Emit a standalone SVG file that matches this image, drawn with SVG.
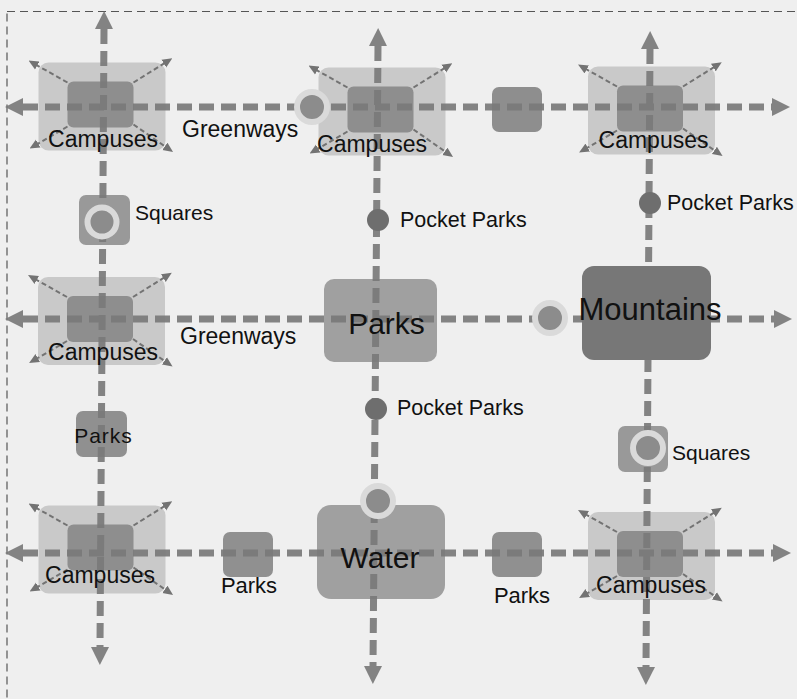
<svg xmlns="http://www.w3.org/2000/svg" width="797" height="699" viewBox="0 0 797 699">
<defs>
<style>
.t{font-family:"Liberation Sans",Arial,sans-serif;fill:#111}
.axis{fill:none;stroke:#7a7a7a;stroke-width:7;stroke-dasharray:15 7;marker-start:url(#big);marker-end:url(#big)}
.diag{fill:none;stroke:#737373;stroke-width:2;stroke-dasharray:5 3;marker-end:url(#small)}
.outer{fill:#c9c9c9}
.inner{fill:#8e8e8e}
.ring{fill:#8c8c8c;stroke:#dadada;stroke-width:6}
.dot{fill:#6e6e6e}
</style>
<marker id="big" markerUnits="userSpaceOnUse" markerWidth="18" markerHeight="18" refX="0" refY="8" orient="auto-start-reverse" viewBox="0 0 16 16"><path d="M0,0 L16,8 L0,16 z" fill="#7a7a7a"/></marker>
<marker id="small" markerUnits="userSpaceOnUse" markerWidth="10" markerHeight="10" refX="2" refY="4.5" orient="auto" viewBox="0 0 10 9"><path d="M0,0 L10,4.5 L0,9 z" fill="#737373"/></marker>
<g id="campusShape">
<rect class="outer" x="-62" y="-42" width="127" height="88" rx="10"/>
<rect class="inner" x="-33" y="-23" width="66" height="46" rx="6"/>
<path class="diag" d="M-33,-22 L-65,-40"/>
<path class="diag" d="M33,-22 L65,-42"/>
<path class="diag" d="M-33,22 L-64,40"/>
<path class="diag" d="M33,20 L66,43"/>
</g>
</defs>
<rect width="797" height="699" fill="#efefef"/>
<rect x="7" y="11.5" width="800" height="700" fill="none" stroke="#555" stroke-width="1.2" stroke-dasharray="8 5"/>

<g id="campus-tl"><use href="#campusShape" transform="translate(100.5,104.5)"/></g>
<g id="campus-tm"><use href="#campusShape" transform="translate(380.5,109.5)"/></g>
<g id="campus-tr"><use href="#campusShape" transform="translate(650,108.5)"/></g>
<g id="campus-ml"><use href="#campusShape" transform="translate(100,319)"/></g>
<g id="campus-bl"><use href="#campusShape" transform="translate(100.5,547.5)"/></g>
<g id="campus-br"><use href="#campusShape" transform="translate(650,554)"/></g>

<g id="parks-big"><rect x="324" y="279" width="113" height="83" rx="10" fill="#a0a0a0"/></g>
<g id="water"><rect x="317" y="505" width="128" height="94" rx="14" fill="#a0a0a0"/></g>
<g id="square-top"><rect x="492" y="87" width="50" height="45" rx="7" fill="#8e8e8e"/></g>
<g id="parks-left"><rect x="76" y="411" width="51" height="46" rx="7" fill="#909090"/></g>
<g id="parks-bl"><rect x="223" y="532" width="50" height="45" rx="7" fill="#909090"/></g>
<g id="parks-br"><rect x="492" y="532" width="50" height="45" rx="7" fill="#909090"/></g>
<g id="squares-tl-box"><rect x="79" y="195" width="51" height="50" rx="7" fill="#999"/></g>
<g id="squares-r-box"><rect x="618" y="426" width="50" height="46" rx="7" fill="#999"/></g>

<g id="connectors" opacity="0.92">
<path class="axis" d="M23,107 L772,107"/>
<path class="axis" d="M23,319 L774,319"/>
<path class="axis" d="M23,553 L773,553"/>
<path class="axis" d="M104,29 L100,647"/>
<path class="axis" d="M378,46 L373,666"/>
<path class="axis" d="M650,49 L646,667"/>
</g>

<g id="mountains"><rect x="582" y="266" width="129" height="94" rx="12" fill="#777"/></g>

<g id="ring-greenway-top"><circle class="ring" cx="312" cy="107" r="15"/></g>
<g id="ring-mid"><circle class="ring" cx="550" cy="318" r="15"/></g>
<g id="ring-water"><circle class="ring" cx="378" cy="501" r="15"/></g>
<g id="squares-tl"><circle class="ring" cx="102" cy="222" r="14.5"/><text class="t" x="135" y="220" font-size="21">Squares</text></g>
<g id="squares-r"><circle class="ring" cx="648" cy="448" r="15"/><text class="t" x="672" y="460" font-size="21">Squares</text></g>

<g id="pocket-1"><circle class="dot" cx="378" cy="220" r="11"/><text class="t" x="400" y="227" font-size="21.5">Pocket Parks</text></g>
<g id="pocket-2"><circle class="dot" cx="376" cy="409" r="11"/><text class="t" x="397" y="415" font-size="21.5">Pocket Parks</text></g>
<g id="pocket-3"><circle class="dot" cx="650" cy="203" r="11"/><text class="t" x="667" y="210" font-size="21.5">Pocket Parks</text></g>

<g id="labels">
<text class="t" x="103" y="147" font-size="23" text-anchor="middle">Campuses</text>
<text class="t" x="372" y="152" font-size="23" text-anchor="middle">Campuses</text>
<text class="t" x="653.5" y="148" font-size="23" text-anchor="middle">Campuses</text>
<text class="t" x="103" y="360" font-size="23" text-anchor="middle">Campuses</text>
<text class="t" x="100" y="583" font-size="23" text-anchor="middle">Campuses</text>
<text class="t" x="651" y="593" font-size="23" text-anchor="middle">Campuses</text>
<text class="t" x="182" y="137" font-size="23">Greenways</text>
<text class="t" x="180" y="344" font-size="23">Greenways</text>
<text class="t" x="386.5" y="334" font-size="30" text-anchor="middle">Parks</text>
<text class="t" x="380" y="568" font-size="30" text-anchor="middle">Water</text>
<text class="t" x="650" y="320" font-size="31" text-anchor="middle">Mountains</text>
<text class="t" x="103.5" y="443" font-size="21" letter-spacing="1" text-anchor="middle">Parks</text>
<text class="t" x="249" y="593" font-size="22" text-anchor="middle">Parks</text>
<text class="t" x="522" y="603" font-size="22" text-anchor="middle">Parks</text>
</g>
</svg>
